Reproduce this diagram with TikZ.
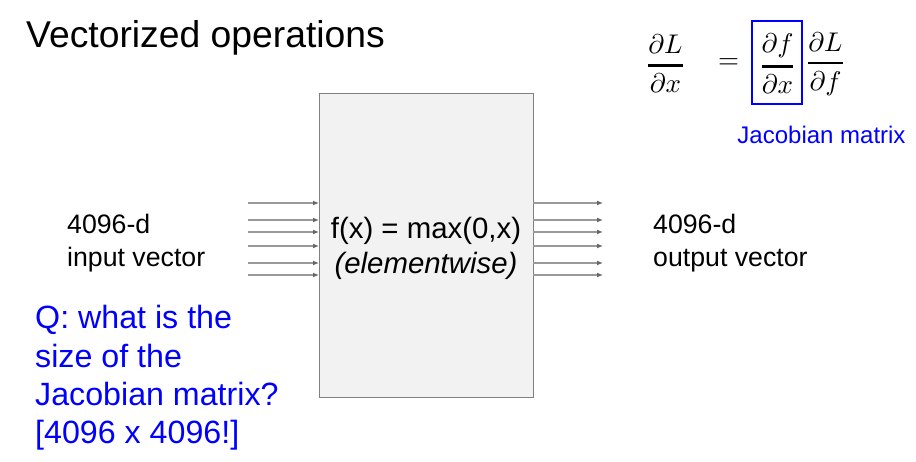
\documentclass[tikz,border=0pt]{standalone}
\usepackage{amsmath}
\usepackage{fontspec}
\setmainfont{Liberation Sans}
\usetikzlibrary{arrows.meta}
\newcommand{\thickfrac}[2]{\genfrac{}{}{0.9pt}{0}{#1}{#2}}
\begin{document}
\begin{tikzpicture}[x=1pt,y=-1pt,
  lbl/.style={inner sep=0pt, align=left, anchor=west, font=\fontsize{26.7}{33}\selectfont},
  ar/.style={draw=black!40, line width=1.3pt, -{Latex[length=6pt,width=5pt,color=black!60]}},
  eqn/.style={inner sep=0pt, scale=2.7, transform shape, font=\fontsize{10}{12}\selectfont}]
\useasboundingbox (0,0) rectangle (916,462);
\node[inner sep=0pt, anchor=west, font=\fontsize{37.3}{42}\selectfont] (title) at (26,38) {Vectorized operations};
\node[draw=black!50, fill=black!5, line width=0.8pt, minimum width=214pt, minimum height=304pt, inner sep=0pt] (box) at (426,245) {};
\node[inner sep=0pt, align=center, font=\fontsize{29.4}{35}\selectfont] (fx) at (426,248) {f(x) = max(0,x)\\\itshape (elementwise)};
\foreach \y [count=\i] in {203,220,232,246,263,275}{
  \coordinate (li\i) at (248,\y);
  \coordinate (lo\i) at (319,\y);
  \coordinate (ri\i) at (533,\y);
  \coordinate (ro\i) at (603,\y);
  \draw[ar] (li\i) -- (lo\i);
  \draw[ar] (ri\i) -- (ro\i);
}
\node[lbl] (in) at (67,243) {4096-d\\input vector};
\node[lbl] (out) at (653,243) {4096-d\\output vector};
\node[inner sep=0pt, align=left, anchor=west, text=blue, font=\fontsize{32.2}{38.3}\selectfont] (q) at (35,378) {Q: what is the\\size of the\\Jacobian matrix?\\{[}4096 x 4096!{]}};
\node[eqn] (lhs) at (665.5,64) {$\thickfrac{\partial L}{\partial x}$};
\node[eqn] (eqs) at (728.5,64) {$=$};
\node[eqn] (jac) at (777.5,64) {$\thickfrac{\partial f}{\partial x}$};
\node[eqn] (rhs) at (825.5,64) {$\thickfrac{\partial L}{\partial f}$};
\node[draw=blue, line width=1.6pt, minimum width=50pt, minimum height=83pt, inner sep=0pt] (jb) at (777,62.5) {};
\node[inner sep=0pt, text=blue, font=\fontsize{24}{28}\selectfont] (jl) at (821.5,135) {Jacobian matrix};
\end{tikzpicture}
\end{document}
